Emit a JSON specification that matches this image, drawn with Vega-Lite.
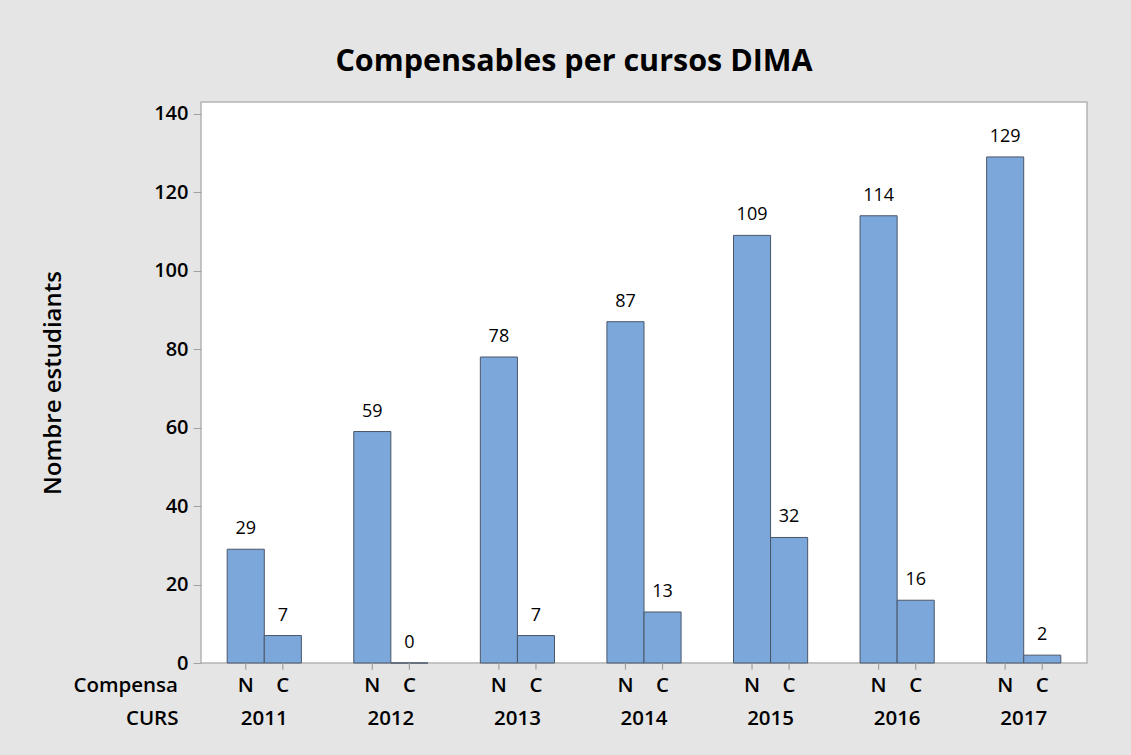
{
  "$schema": "https://vega.github.io/schema/vega-lite/v6.json",
  "autosize": "none",
  "width": 886,
  "height": 561,
  "padding": {"left": 201, "top": 102, "right": 44, "bottom": 92},
  "background": "#e5e5e5",
  "title": {
    "text": "Compensables per cursos DIMA",
    "font": "Open Sans",
    "fontSize": 30.5,
    "fontWeight": "bold",
    "color": "#000000",
    "anchor": "middle",
    "dx": -70,
    "offset": 25
  },
  "config": {
    "view": {"fill": "white", "stroke": "#b4b4b4", "strokeWidth": 1.5},
    "font": "Open Sans"
  },
  "data": {
    "values": [
      {"CURS": "2011", "Compensa": "N", "n": 29},
      {"CURS": "2011", "Compensa": "C", "n": 7},
      {"CURS": "2012", "Compensa": "N", "n": 59},
      {"CURS": "2012", "Compensa": "C", "n": 0},
      {"CURS": "2013", "Compensa": "N", "n": 78},
      {"CURS": "2013", "Compensa": "C", "n": 7},
      {"CURS": "2014", "Compensa": "N", "n": 87},
      {"CURS": "2014", "Compensa": "C", "n": 13},
      {"CURS": "2015", "Compensa": "N", "n": 109},
      {"CURS": "2015", "Compensa": "C", "n": 32},
      {"CURS": "2016", "Compensa": "N", "n": 114},
      {"CURS": "2016", "Compensa": "C", "n": 16},
      {"CURS": "2017", "Compensa": "N", "n": 129},
      {"CURS": "2017", "Compensa": "C", "n": 2}
    ]
  },
  "encoding": {
    "x": {
      "field": "CURS",
      "type": "nominal",
      "scale": {"paddingInner": 0.414, "paddingOuter": 0.207},
      "axis": {
        "title": "CURS",
        "titleFont": "Open Sans",
        "titleFontSize": 20.5,
        "titleFontWeight": 600,
        "titleColor": "#000000",
        "titleAnchor": "start",
        "titleAlign": "right",
        "titleBaseline": "middle",
        "titleX": -23,
        "titleY": 55,
        "labelAngle": 0,
        "labelFont": "Open Sans",
        "labelFontSize": 20.5,
        "labelFontWeight": 600,
        "labelColor": "#000000",
        "labelBaseline": "middle",
        "labelPadding": 55,
        "ticks": false,
        "domain": false
      }
    },
    "xOffset": {
      "field": "Compensa",
      "type": "nominal",
      "sort": ["N", "C"],
      "scale": {"paddingInner": 0, "paddingOuter": 0}
    }
  },
  "layer": [
    {
      "mark": {"type": "bar", "fill": "#7ba7db", "stroke": "#4a5668", "strokeWidth": 1},
      "encoding": {
        "y": {
          "field": "n",
          "type": "quantitative",
          "scale": {"domain": [0, 143], "nice": false},
          "axis": {
            "title": "Nombre estudiants",
            "titleFont": "Open Sans",
            "titleFontSize": 24,
            "titleFontWeight": 600,
            "titleColor": "#000000",
            "titlePadding": 88,
            "values": [0, 20, 40, 60, 80, 100, 120, 140],
            "labelFont": "Open Sans",
            "labelFontSize": 20,
            "labelFontWeight": 600,
            "labelColor": "#000000",
            "labelPadding": 5,
            "tickSize": 8,
            "tickColor": "#a0a0a0",
            "grid": false,
            "domain": false
          }
        }
      }
    },
    {
      "mark": {"type": "text", "font": "Open Sans", "fontSize": 18, "color": "#000000", "baseline": "alphabetic", "dy": -15},
      "encoding": {
        "y": {"field": "n", "type": "quantitative"},
        "text": {"field": "n", "type": "quantitative"}
      }
    },
    {
      "mark": {"type": "rule", "color": "#a0a0a0", "strokeWidth": 1.2, "clip": false},
      "encoding": {
        "y": {"datum": 0},
        "y2": {"datum": -1.7}
      }
    },
    {
      "mark": {"type": "text", "font": "Open Sans", "fontSize": 20.5, "fontWeight": 600, "color": "#000000", "baseline": "middle", "clip": false},
      "encoding": {
        "y": {"datum": -5.9},
        "text": {"field": "Compensa", "type": "nominal"}
      }
    },
    {
      "data": {"values": [{"label": "Compensa"}]},
      "mark": {"type": "text", "font": "Open Sans", "fontSize": 20.5, "fontWeight": 600, "color": "#000000", "baseline": "middle", "align": "right", "clip": false, "x": -23},
      "encoding": {
        "x": null,
        "xOffset": null,
        "y": {"datum": -5.9},
        "text": {"field": "label", "type": "nominal"}
      }
    }
  ]
}
